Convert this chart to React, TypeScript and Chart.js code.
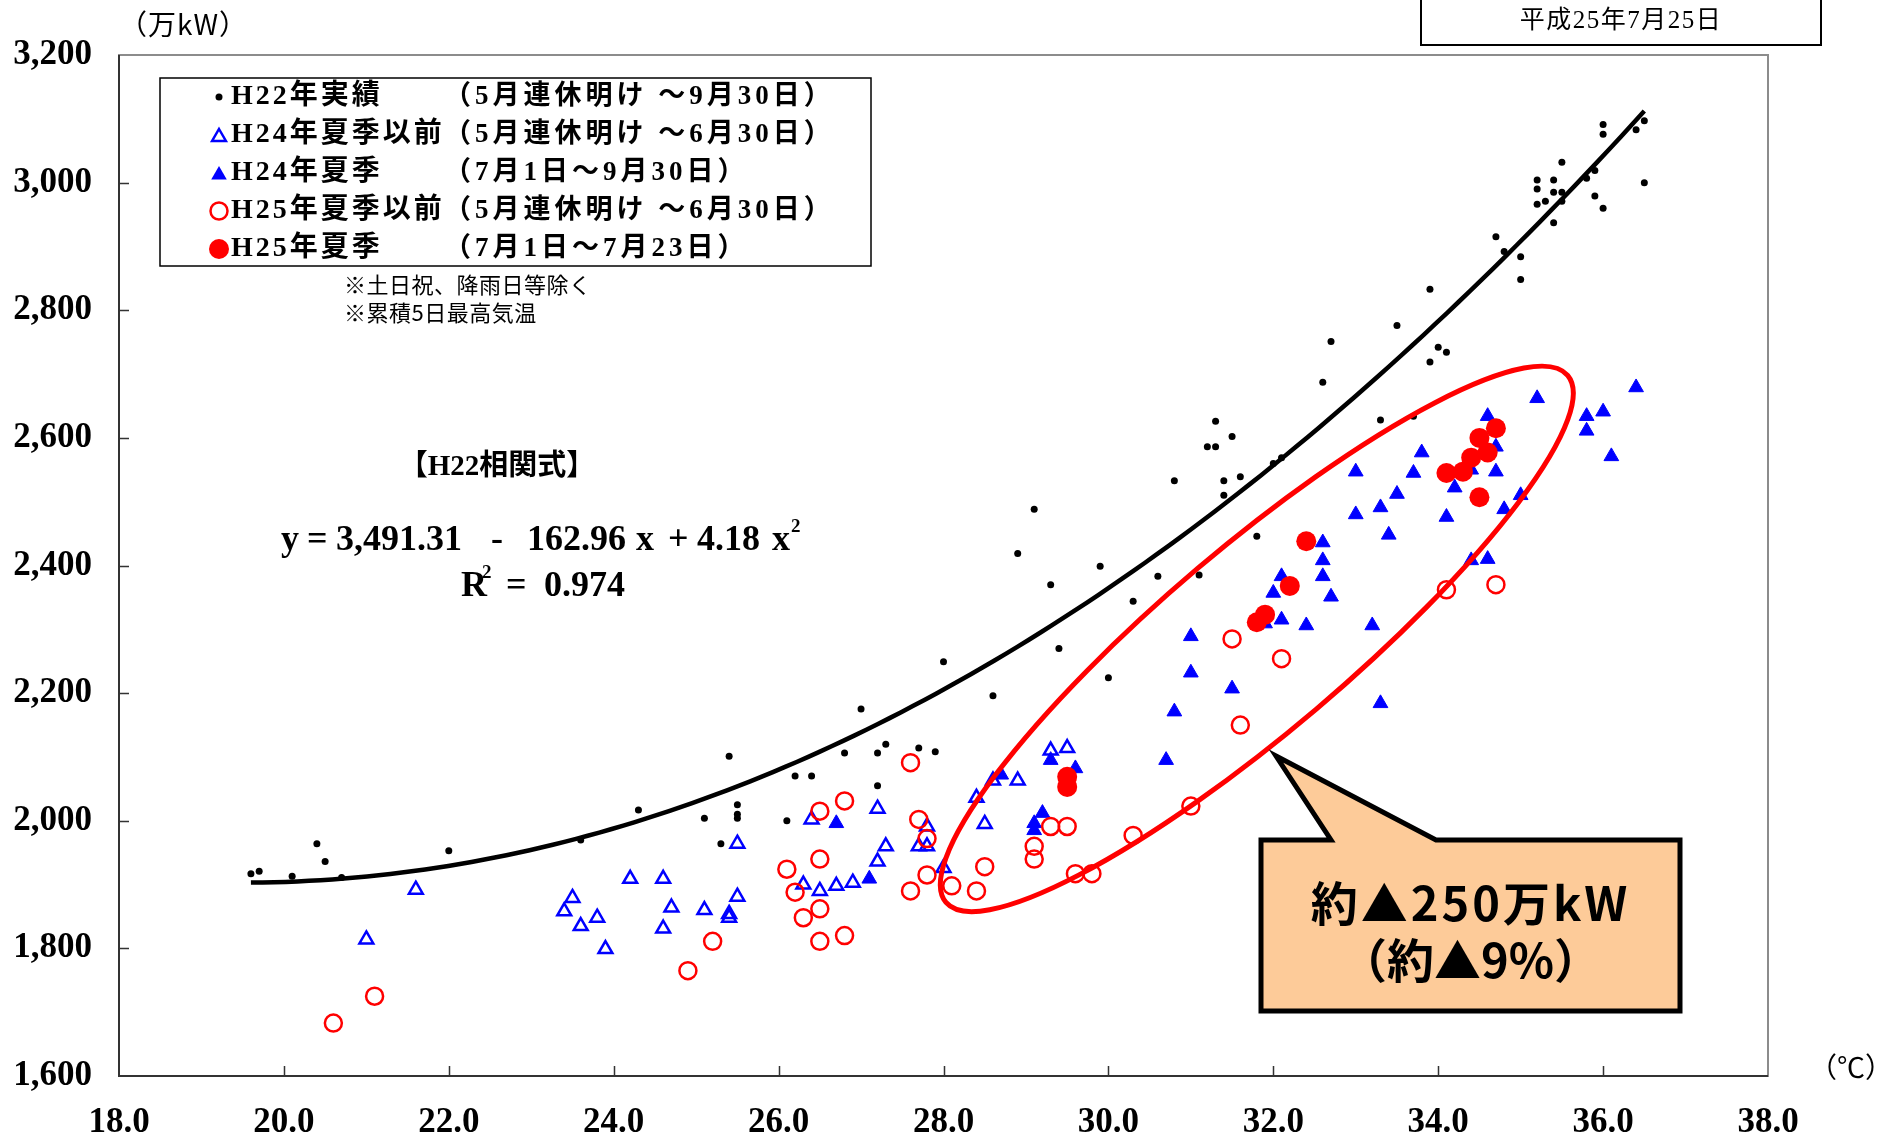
import React, { useEffect, useRef } from 'react';
import { Chart, registerables } from 'chart.js';

Chart.register(...registerables);

const W = 1897;
const H = 1140;

// ---- axis ----
const xRange = [18, 38];
const yRange = [1600, 3200];
const xTickStep = 2;
const yTickStep = 200;

// ---- H22 actual (temperature, demand) ----
const h22Temp = [19.6, 19.7, 20.1, 20.4, 20.5, 20.7, 22.0, 23.6, 24.3, 25.1, 25.3, 25.4, 25.5, 25.5, 25.5, 26.1, 26.2, 26.4, 26.8, 27.0, 27.2, 27.3, 27.2, 27.7, 27.9, 28.0, 28.6, 28.9, 29.1, 29.3, 29.4, 29.9, 30.0, 30.3, 30.6, 30.8, 31.2, 31.3, 31.3, 31.5, 31.4, 31.6, 31.4, 31.1, 31.8, 32.0, 32.1, 32.6, 32.7, 33.3, 33.7, 33.5, 33.9, 34.0, 34.1, 33.9, 34.7, 34.8, 35.0, 35.0, 35.2, 35.4, 35.2, 35.4, 35.5, 35.3, 35.5, 35.2, 35.5, 35.8, 35.9, 35.9, 36.0, 35.4, 36.0, 36.0, 36.4, 36.5, 36.5];
const h22Demand = [1917, 1921, 1913, 1964, 1936, 1911, 1953, 1970, 2017, 2004, 1964, 2101, 2025, 2010, 2004, 2000, 2070, 2070, 2106, 2175, 2106, 2120, 2055, 2114, 2108, 2249, 2196, 2419, 2488, 2370, 2270, 2399, 2224, 2344, 2383, 2533, 2586, 2586, 2626, 2602, 2533, 2539, 2510, 2385, 2446, 2560, 2569, 2687, 2751, 2628, 2634, 2776, 2833, 2742, 2734, 2719, 2915, 2892, 2884, 2848, 3004, 3004, 2990, 2985, 2985, 2971, 2971, 2966, 3032, 3007, 3019, 2979, 2960, 2937, 3091, 3076, 3083, 3097, 3000];

// ---- H24 before summer ----
const h24PreTemp = [21.0, 21.6, 23.4, 23.5, 23.6, 23.8, 23.9, 24.2, 24.6, 24.6, 24.7, 25.1, 25.4, 25.4, 25.5, 25.5, 26.4, 26.3, 26.5, 26.7, 26.9, 27.2, 27.3, 27.2, 27.7, 27.8, 27.8, 28.0, 28.4, 28.5, 28.6, 28.9, 29.5, 29.3];
const h24PreDemand = [1814, 1892, 1858, 1879, 1835, 1848, 1799, 1909, 1909, 1831, 1864, 1860, 1854, 1848, 1964, 1881, 2002, 1900, 1890, 1898, 1903, 2019, 1960, 1936, 1960, 1960, 1991, 1926, 2036, 1995, 2063, 2063, 2114, 2110];

// ---- H24 summer ----
const h24SumTemp = [26.7, 27.1, 28.7, 29.3, 29.6, 29.2, 29.1, 29.1, 30.8, 30.7, 31.0, 31.0, 31.5, 33.3, 32.0, 32.1, 32.1, 31.9, 32.4, 32.6, 32.6, 32.6, 32.7, 33.2, 33.0, 33.0, 33.3, 33.4, 34.1, 34.8, 34.4, 34.6, 33.5, 33.7, 33.8, 34.2, 34.7, 34.7, 35.0, 34.4, 34.6, 35.2, 35.8, 35.8, 36.0, 36.1, 36.4];
const h24SumDemand = [1996, 1909, 2072, 2095, 2082, 2012, 1996, 1985, 2171, 2095, 2289, 2232, 2207, 2184, 2357, 2383, 2315, 2309, 2306, 2436, 2408, 2383, 2351, 2306, 2480, 2547, 2491, 2448, 2476, 2488, 2408, 2410, 2512, 2545, 2577, 2522, 2586, 2547, 2510, 2550, 2634, 2662, 2634, 2611, 2641, 2571, 2679];

// ---- H25 before summer ----
const h25PreTemp = [20.6, 21.1, 24.9, 25.2, 26.1, 26.2, 26.3, 26.5, 26.5, 26.5, 26.5, 26.8, 26.8, 27.6, 27.6, 27.7, 27.8, 27.8, 28.1, 28.4, 28.5, 29.1, 29.1, 29.3, 29.5, 29.6, 29.8, 30.3, 31.0, 31.5, 32.1, 31.6, 34.1, 34.7];
const h25PreDemand = [1683, 1725, 1765, 1811, 1924, 1888, 1848, 2015, 1940, 1862, 1811, 2031, 1820, 2091, 1890, 2002, 1972, 1915, 1898, 1890, 1928, 1960, 1940, 1991, 1991, 1917, 1917, 1977, 2023, 2285, 2254, 2150, 2362, 2370];

// ---- H25 summer ----
const h25SumTemp = [29.5, 29.5, 31.8, 31.9, 32.2, 32.4, 34.1, 34.3, 34.4, 34.5, 34.6, 34.7, 34.5];
const h25SumDemand = [2069, 2053, 2311, 2323, 2368, 2438, 2545, 2547, 2569, 2600, 2577, 2615, 2507];

// ---- H22 fitted curve: y = c0 + c1 x + c2 x^2 ----
const fitCoef = [3491.31, -162.96, 4.18];
const fitRange = [19.6, 36.5];
const fitR2 = 0.974;

// ---- texts ----
const seriesNames = ['H22年実績', 'H24年夏季以前', 'H24年夏季', 'H25年夏季以前', 'H25年夏季'];
const seriesPeriods = ['（5月連休明け ～9月30日）', '（5月連休明け ～6月30日）', '（7月1日～9月30日）', '（5月連休明け ～6月30日）', '（7月1日～7月23日）'];
const noteLines = ['※土日祝、降雨日等除く', '※累積5日最高気温'];
const dateLabel = '平成25年7月25日';
const yUnit = '（万kW）';
const xUnit = '（℃）';
const fitTitle = '【H22相関式】';
const calloutLines = ['約▲250万kW', '（約▲9%）'];

// ---- annotation geometry (data units for ellipse) ----
const ellipseCenter = [31.8, 2285];
const ellipseTip = [35.57, 2698];

const SERIF = '"Liberation Serif", "Noto Sans CJK JP", serif';
const SANS = '"Noto Sans CJK JP", "Noto Sans", sans-serif';

const zip = (xs: number[], ys: number[]) => xs.map((x, i) => ({ x, y: ys[i] }));

function fitCurve() {
  const pts: { x: number; y: number }[] = [];
  const n = 120;
  for (let i = 0; i <= n; i++) {
    const x = fitRange[0] + ((fitRange[1] - fitRange[0]) * i) / n;
    pts.push({ x, y: fitCoef[0] + fitCoef[1] * x + fitCoef[2] * x * x });
  }
  return pts;
}

function triPath(ctx: CanvasRenderingContext2D, x: number, y: number, r: number) {
  ctx.beginPath();
  ctx.moveTo(x, y - r);
  ctx.lineTo(x + 0.866 * r, y + 0.5 * r);
  ctx.lineTo(x - 0.866 * r, y + 0.5 * r);
  ctx.closePath();
}

function drawMarker(ctx: CanvasRenderingContext2D, kind: number, x: number, y: number) {
  ctx.save();
  if (kind === 0) {
    ctx.fillStyle = '#000';
    ctx.beginPath(); ctx.arc(x, y, 3.5, 0, Math.PI * 2); ctx.fill();
  } else if (kind === 1) {
    ctx.strokeStyle = '#0000FF'; ctx.lineWidth = 2.5;
    triPath(ctx, x, y + 2, 8); ctx.stroke();
  } else if (kind === 2) {
    ctx.fillStyle = '#0000FF';
    triPath(ctx, x, y + 2, 9); ctx.fill();
  } else if (kind === 3) {
    ctx.strokeStyle = '#FF0000'; ctx.lineWidth = 2.5;
    ctx.beginPath(); ctx.arc(x, y, 8.5, 0, Math.PI * 2); ctx.stroke();
  } else {
    ctx.fillStyle = '#FF0000';
    ctx.beginPath(); ctx.arc(x, y, 10, 0, Math.PI * 2); ctx.fill();
  }
  ctx.restore();
}

function text(ctx: any, s: string, x: number, y: number, font: string, align: CanvasTextAlign = 'left', spacing = 0) {
  ctx.save();
  ctx.font = font;
  ctx.fillStyle = '#000';
  ctx.textAlign = align;
  ctx.textBaseline = 'middle';
  ctx.letterSpacing = spacing + 'px';
  ctx.fillText(s, x, y);
  ctx.restore();
}

const fmt2 = (v: number) => Math.abs(v).toLocaleString('en-US', { minimumFractionDigits: 2, maximumFractionDigits: 2 });

const overlayPlugin = {
  id: 'overlay',
  beforeDatasetsDraw(chart: any) {
    const { ctx, chartArea: a, scales } = chart;
    ctx.save();
    ctx.strokeStyle = '#8c8c8c';
    ctx.lineWidth = 2;
    ctx.strokeRect(a.left, a.top, a.right - a.left, a.bottom - a.top);
    ctx.strokeStyle = '#333';
    ctx.beginPath();
    ctx.moveTo(a.left, a.top);
    ctx.lineTo(a.left, a.bottom);
    ctx.lineTo(a.right, a.bottom);
    ctx.stroke();
    ctx.lineWidth = 1.5;
    ctx.beginPath();
    scales.y.ticks.forEach((t: any) => {
      if (t.value <= yRange[0] || t.value >= yRange[1]) return;
      const p = Math.round(scales.y.getPixelForValue(t.value)) + 0.5;
      ctx.moveTo(a.left, p); ctx.lineTo(a.left + 10, p);
    });
    scales.x.ticks.forEach((t: any) => {
      if (t.value <= xRange[0] || t.value >= xRange[1]) return;
      const p = Math.round(scales.x.getPixelForValue(t.value)) + 0.5;
      ctx.moveTo(p, a.bottom); ctx.lineTo(p, a.bottom - 10);
    });
    ctx.stroke();
    ctx.restore();
  },
  afterDatasetsDraw(chart: any) {
    const { ctx, scales } = chart;
    const xs = scales.x, ys = scales.y;

    // ellipse
    const cx = xs.getPixelForValue(ellipseCenter[0]);
    const cy = ys.getPixelForValue(ellipseCenter[1]);
    const ex = xs.getPixelForValue(ellipseTip[0]);
    const ey = ys.getPixelForValue(ellipseTip[1]);
    ctx.save();
    ctx.strokeStyle = '#FF0000';
    ctx.lineWidth = 5;
    ctx.beginPath();
    ctx.ellipse(cx, cy, Math.hypot(ex - cx, ey - cy), 92, Math.atan2(ey - cy, ex - cx), 0, Math.PI * 2);
    ctx.stroke();
    ctx.restore();

    // callout
    const L = 1261, R = 1680, T = 840, B = 1011;
    ctx.save();
    ctx.fillStyle = '#FDCB99';
    ctx.strokeStyle = '#000';
    ctx.lineWidth = 5;
    ctx.lineJoin = 'miter';
    ctx.beginPath();
    ctx.moveTo(L, T);
    ctx.lineTo(1331, T);
    ctx.lineTo(1276, 756);
    ctx.lineTo(1436, T);
    ctx.lineTo(R, T);
    ctx.lineTo(R, B);
    ctx.lineTo(L, B);
    ctx.closePath();
    ctx.fill();
    ctx.stroke();
    ctx.restore();
    text(ctx, calloutLines[0], (L + R) / 2, 903, `bold 47px ${SANS}`, 'center', 3);
    text(ctx, calloutLines[1], (L + R) / 2, 960, `bold 47px ${SANS}`, 'center', 0);

    // legend box
    ctx.save();
    ctx.fillStyle = '#fff';
    ctx.fillRect(160, 78, 711, 188);
    ctx.strokeStyle = '#000';
    ctx.lineWidth = 1.5;
    ctx.strokeRect(160, 78, 711, 188);
    ctx.restore();
    seriesNames.forEach((name, i) => {
      const y = 97 + i * 38;
      drawMarker(ctx, i, 219, y);
      text(ctx, name, 231, y, `bold 28px ${SERIF}`, 'left', 3);
      text(ctx, seriesPeriods[i], 444, y, `bold 27px ${SERIF}`, 'left', 4);
    });

    // notes
    noteLines.forEach((s, i) => text(ctx, s, 344, 285 + i * 28, `22px ${SANS}`, 'left', 0.5));

    // fit equation
    text(ctx, fitTitle, 497, 468, `bold 29px ${SERIF}`, 'center');
    const ef = `bold 36px ${SERIF}`;
    const sf = `bold 19px ${SERIF}`;
    const ey0 = 541;
    text(ctx, 'y', 281, ey0, ef);
    text(ctx, '=', 307, ey0, ef);
    text(ctx, fmt2(fitCoef[0]), 336, ey0, ef);
    text(ctx, '-', 491, ey0, ef);
    text(ctx, fmt2(fitCoef[1]), 527, ey0, ef);
    text(ctx, 'x', 636, ey0, ef);
    text(ctx, '+', 668, ey0, ef);
    text(ctx, fmt2(fitCoef[2]), 697, ey0, ef);
    text(ctx, 'x', 772, ey0, ef);
    text(ctx, '2', 791, ey0 - 14, sf);
    const ry = 587;
    text(ctx, 'R', 461, ry, ef);
    text(ctx, '2', 482, ry - 14, sf);
    text(ctx, '=', 506, ry, ef);
    text(ctx, fitR2.toFixed(3), 544, ry, ef);

    // units
    text(ctx, yUnit, 119, 24, `28px ${SANS}`, 'left', 1);
    text(ctx, xUnit, 1809, 1067, `28px ${SANS}`);

    // date box
    ctx.save();
    ctx.strokeStyle = '#000';
    ctx.lineWidth = 2;
    ctx.strokeRect(1421, -2, 400, 47);
    ctx.restore();
    text(ctx, dateLabel, 1621, 21, `25px ${SERIF}`, 'center', 1.5);
  },
};

export default function App() {
  const ref = useRef<HTMLCanvasElement | null>(null);
  useEffect(() => {
    if (!ref.current) return;
    const tickFont = { family: SERIF, size: 35, weight: 'bold' as const };
    const chart = new Chart(ref.current, {
      type: 'scatter',
      data: {
        datasets: [
          { label: seriesNames[4], data: zip(h25SumTemp, h25SumDemand), pointStyle: 'circle', pointRadius: 10, backgroundColor: '#FF0000', borderWidth: 0 },
          { label: seriesNames[3], data: zip(h25PreTemp, h25PreDemand), pointStyle: 'circle', pointRadius: 8.5, backgroundColor: 'rgba(0,0,0,0)', borderColor: '#FF0000', borderWidth: 2.5 },
          { label: seriesNames[0], data: zip(h22Temp, h22Demand), pointStyle: 'circle', pointRadius: 3.5, backgroundColor: '#000', borderWidth: 0 },
          { label: seriesNames[2], data: zip(h24SumTemp, h24SumDemand), pointStyle: 'triangle', pointRadius: 8.5, backgroundColor: '#0000FF', borderColor: '#0000FF', borderWidth: 1 },
          { label: seriesNames[1], data: zip(h24PreTemp, h24PreDemand), pointStyle: 'triangle', pointRadius: 8, backgroundColor: 'rgba(0,0,0,0)', borderColor: '#0000FF', borderWidth: 2.5 },
          { label: 'fit', data: fitCurve(), showLine: true, pointRadius: 0, borderColor: '#000', borderWidth: 4.5, backgroundColor: '#000', tension: 0 } as any,
        ],
      },
      options: {
        responsive: false,
        devicePixelRatio: 1,
        animation: false,
        events: [],
        layout: { padding: { left: 0, right: 129, top: 55, bottom: 0 } },
        plugins: { legend: { display: false }, tooltip: { enabled: false } },
        scales: {
          x: {
            type: 'linear',
            min: xRange[0],
            max: xRange[1],
            afterFit: (s: any) => { s.height = 64; },
            grid: { display: false, drawTicks: false },
            border: { display: false },
            ticks: { stepSize: xTickStep, autoSkip: false, maxRotation: 0, padding: 26, color: '#000', font: tickFont, callback: (v: any) => Number(v).toFixed(1) },
          },
          y: {
            type: 'linear',
            min: yRange[0],
            max: yRange[1],
            afterFit: (s: any) => { s.width = 119; },
            grid: { display: false, drawTicks: false },
            border: { display: false },
            ticks: { stepSize: yTickStep, autoSkip: false, padding: 27, color: '#000', font: tickFont, callback: (v: any) => Number(v).toLocaleString('en-US') },
          },
        },
      },
      plugins: [overlayPlugin],
    });
    return () => chart.destroy();
  }, []);
  return (
    <div style={{ position: 'fixed', left: 0, top: 0, width: W, height: H, background: '#fff' }}>
      <canvas ref={ref} width={W} height={H} style={{ display: 'block', width: W, height: H }} />
    </div>
  );
}
